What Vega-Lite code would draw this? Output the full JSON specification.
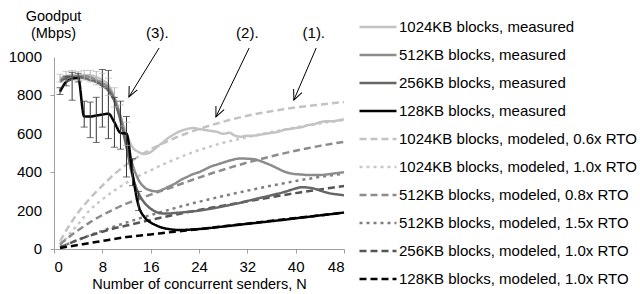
{
  "$schema": "https://vega.github.io/schema/vega-lite/v6.json",
  "width": 290,
  "height": 192,
  "autosize": "none",
  "padding": {"left": 54, "top": 57, "right": 296, "bottom": 45},
  "config": {
    "view": {"stroke": null},
    "font": "Liberation Sans",
    "axis": {"domainColor": "#a0a0a0", "tickColor": "#a0a0a0", "labelColor": "#000", "titleColor": "#000", "labelFont": "Liberation Sans", "titleFont": "Liberation Sans", "labelFontSize": 15, "titleFontSize": 14.5, "titleFontWeight": "normal", "grid": false, "tickSize": 4}
  },
  "datasets": {
    "lines": [
      {"s": "1024KB blocks, modeled, 0.6x RTO", "N": 1, "v": 40}, {"s": "1024KB blocks, modeled, 0.6x RTO", "N": 2, "v": 95}, {"s": "1024KB blocks, modeled, 0.6x RTO", "N": 3, "v": 145}, {"s": "1024KB blocks, modeled, 0.6x RTO", "N": 4, "v": 190}, {"s": "1024KB blocks, modeled, 0.6x RTO", "N": 6, "v": 265}, {"s": "1024KB blocks, modeled, 0.6x RTO", "N": 8, "v": 330}, {"s": "1024KB blocks, modeled, 0.6x RTO", "N": 10, "v": 390}, {"s": "1024KB blocks, modeled, 0.6x RTO", "N": 12, "v": 440}, {"s": "1024KB blocks, modeled, 0.6x RTO", "N": 14, "v": 482}, {"s": "1024KB blocks, modeled, 0.6x RTO", "N": 16, "v": 518}, {"s": "1024KB blocks, modeled, 0.6x RTO", "N": 18, "v": 550}, {"s": "1024KB blocks, modeled, 0.6x RTO", "N": 20, "v": 578}, {"s": "1024KB blocks, modeled, 0.6x RTO", "N": 22, "v": 603}, {"s": "1024KB blocks, modeled, 0.6x RTO", "N": 24, "v": 625}, {"s": "1024KB blocks, modeled, 0.6x RTO", "N": 26, "v": 645}, {"s": "1024KB blocks, modeled, 0.6x RTO", "N": 28, "v": 663}, {"s": "1024KB blocks, modeled, 0.6x RTO", "N": 30, "v": 680}, {"s": "1024KB blocks, modeled, 0.6x RTO", "N": 32, "v": 694}, {"s": "1024KB blocks, modeled, 0.6x RTO", "N": 34, "v": 707}, {"s": "1024KB blocks, modeled, 0.6x RTO", "N": 36, "v": 718}, {"s": "1024KB blocks, modeled, 0.6x RTO", "N": 38, "v": 728}, {"s": "1024KB blocks, modeled, 0.6x RTO", "N": 40, "v": 737}, {"s": "1024KB blocks, modeled, 0.6x RTO", "N": 42, "v": 745}, {"s": "1024KB blocks, modeled, 0.6x RTO", "N": 44, "v": 752}, {"s": "1024KB blocks, modeled, 0.6x RTO", "N": 46, "v": 759}, {"s": "1024KB blocks, modeled, 0.6x RTO", "N": 48, "v": 765},

      {"s": "1024KB blocks, modeled, 1.0x RTO", "N": 1, "v": 20}, {"s": "1024KB blocks, modeled, 1.0x RTO", "N": 2, "v": 55}, {"s": "1024KB blocks, modeled, 1.0x RTO", "N": 3, "v": 95}, {"s": "1024KB blocks, modeled, 1.0x RTO", "N": 4, "v": 130}, {"s": "1024KB blocks, modeled, 1.0x RTO", "N": 6, "v": 205}, {"s": "1024KB blocks, modeled, 1.0x RTO", "N": 8, "v": 258}, {"s": "1024KB blocks, modeled, 1.0x RTO", "N": 10, "v": 305}, {"s": "1024KB blocks, modeled, 1.0x RTO", "N": 12, "v": 345}, {"s": "1024KB blocks, modeled, 1.0x RTO", "N": 14, "v": 380}, {"s": "1024KB blocks, modeled, 1.0x RTO", "N": 16, "v": 410}, {"s": "1024KB blocks, modeled, 1.0x RTO", "N": 18, "v": 440}, {"s": "1024KB blocks, modeled, 1.0x RTO", "N": 20, "v": 467}, {"s": "1024KB blocks, modeled, 1.0x RTO", "N": 22, "v": 492}, {"s": "1024KB blocks, modeled, 1.0x RTO", "N": 24, "v": 515}, {"s": "1024KB blocks, modeled, 1.0x RTO", "N": 26, "v": 535}, {"s": "1024KB blocks, modeled, 1.0x RTO", "N": 28, "v": 553}, {"s": "1024KB blocks, modeled, 1.0x RTO", "N": 30, "v": 568}, {"s": "1024KB blocks, modeled, 1.0x RTO", "N": 32, "v": 582}, {"s": "1024KB blocks, modeled, 1.0x RTO", "N": 34, "v": 596}, {"s": "1024KB blocks, modeled, 1.0x RTO", "N": 36, "v": 609}, {"s": "1024KB blocks, modeled, 1.0x RTO", "N": 38, "v": 621}, {"s": "1024KB blocks, modeled, 1.0x RTO", "N": 40, "v": 633}, {"s": "1024KB blocks, modeled, 1.0x RTO", "N": 42, "v": 644}, {"s": "1024KB blocks, modeled, 1.0x RTO", "N": 44, "v": 654}, {"s": "1024KB blocks, modeled, 1.0x RTO", "N": 46, "v": 663}, {"s": "1024KB blocks, modeled, 1.0x RTO", "N": 48, "v": 672},

      {"s": "512KB blocks, modeled, 0.8x RTO", "N": 1, "v": 25}, {"s": "512KB blocks, modeled, 0.8x RTO", "N": 2, "v": 50}, {"s": "512KB blocks, modeled, 0.8x RTO", "N": 3, "v": 75}, {"s": "512KB blocks, modeled, 0.8x RTO", "N": 4, "v": 98}, {"s": "512KB blocks, modeled, 0.8x RTO", "N": 6, "v": 140}, {"s": "512KB blocks, modeled, 0.8x RTO", "N": 8, "v": 177}, {"s": "512KB blocks, modeled, 0.8x RTO", "N": 10, "v": 208}, {"s": "512KB blocks, modeled, 0.8x RTO", "N": 12, "v": 236}, {"s": "512KB blocks, modeled, 0.8x RTO", "N": 14, "v": 260}, {"s": "512KB blocks, modeled, 0.8x RTO", "N": 16, "v": 283}, {"s": "512KB blocks, modeled, 0.8x RTO", "N": 18, "v": 305}, {"s": "512KB blocks, modeled, 0.8x RTO", "N": 20, "v": 327}, {"s": "512KB blocks, modeled, 0.8x RTO", "N": 22, "v": 350}, {"s": "512KB blocks, modeled, 0.8x RTO", "N": 24, "v": 372}, {"s": "512KB blocks, modeled, 0.8x RTO", "N": 26, "v": 393}, {"s": "512KB blocks, modeled, 0.8x RTO", "N": 28, "v": 413}, {"s": "512KB blocks, modeled, 0.8x RTO", "N": 30, "v": 432}, {"s": "512KB blocks, modeled, 0.8x RTO", "N": 32, "v": 450}, {"s": "512KB blocks, modeled, 0.8x RTO", "N": 34, "v": 467}, {"s": "512KB blocks, modeled, 0.8x RTO", "N": 36, "v": 483}, {"s": "512KB blocks, modeled, 0.8x RTO", "N": 38, "v": 498}, {"s": "512KB blocks, modeled, 0.8x RTO", "N": 40, "v": 512}, {"s": "512KB blocks, modeled, 0.8x RTO", "N": 42, "v": 525}, {"s": "512KB blocks, modeled, 0.8x RTO", "N": 44, "v": 537}, {"s": "512KB blocks, modeled, 0.8x RTO", "N": 46, "v": 548}, {"s": "512KB blocks, modeled, 0.8x RTO", "N": 48, "v": 558},

      {"s": "512KB blocks, modeled, 1.5x RTO", "N": 1, "v": 10}, {"s": "512KB blocks, modeled, 1.5x RTO", "N": 2, "v": 22}, {"s": "512KB blocks, modeled, 1.5x RTO", "N": 4, "v": 48}, {"s": "512KB blocks, modeled, 1.5x RTO", "N": 6, "v": 72}, {"s": "512KB blocks, modeled, 1.5x RTO", "N": 8, "v": 95}, {"s": "512KB blocks, modeled, 1.5x RTO", "N": 10, "v": 117}, {"s": "512KB blocks, modeled, 1.5x RTO", "N": 12, "v": 138}, {"s": "512KB blocks, modeled, 1.5x RTO", "N": 14, "v": 158}, {"s": "512KB blocks, modeled, 1.5x RTO", "N": 16, "v": 177}, {"s": "512KB blocks, modeled, 1.5x RTO", "N": 18, "v": 195}, {"s": "512KB blocks, modeled, 1.5x RTO", "N": 20, "v": 213}, {"s": "512KB blocks, modeled, 1.5x RTO", "N": 22, "v": 230}, {"s": "512KB blocks, modeled, 1.5x RTO", "N": 24, "v": 246}, {"s": "512KB blocks, modeled, 1.5x RTO", "N": 26, "v": 261}, {"s": "512KB blocks, modeled, 1.5x RTO", "N": 28, "v": 276}, {"s": "512KB blocks, modeled, 1.5x RTO", "N": 30, "v": 290}, {"s": "512KB blocks, modeled, 1.5x RTO", "N": 32, "v": 304}, {"s": "512KB blocks, modeled, 1.5x RTO", "N": 34, "v": 317}, {"s": "512KB blocks, modeled, 1.5x RTO", "N": 36, "v": 330}, {"s": "512KB blocks, modeled, 1.5x RTO", "N": 38, "v": 342}, {"s": "512KB blocks, modeled, 1.5x RTO", "N": 40, "v": 354}, {"s": "512KB blocks, modeled, 1.5x RTO", "N": 42, "v": 365}, {"s": "512KB blocks, modeled, 1.5x RTO", "N": 44, "v": 375}, {"s": "512KB blocks, modeled, 1.5x RTO", "N": 46, "v": 384}, {"s": "512KB blocks, modeled, 1.5x RTO", "N": 48, "v": 392},

      {"s": "256KB blocks, modeled, 1.0x RTO", "N": 1, "v": 8}, {"s": "256KB blocks, modeled, 1.0x RTO", "N": 2, "v": 22}, {"s": "256KB blocks, modeled, 1.0x RTO", "N": 4, "v": 48}, {"s": "256KB blocks, modeled, 1.0x RTO", "N": 6, "v": 70}, {"s": "256KB blocks, modeled, 1.0x RTO", "N": 8, "v": 90}, {"s": "256KB blocks, modeled, 1.0x RTO", "N": 10, "v": 108}, {"s": "256KB blocks, modeled, 1.0x RTO", "N": 12, "v": 122}, {"s": "256KB blocks, modeled, 1.0x RTO", "N": 14, "v": 137}, {"s": "256KB blocks, modeled, 1.0x RTO", "N": 16, "v": 151}, {"s": "256KB blocks, modeled, 1.0x RTO", "N": 18, "v": 165}, {"s": "256KB blocks, modeled, 1.0x RTO", "N": 20, "v": 178}, {"s": "256KB blocks, modeled, 1.0x RTO", "N": 22, "v": 191}, {"s": "256KB blocks, modeled, 1.0x RTO", "N": 24, "v": 203}, {"s": "256KB blocks, modeled, 1.0x RTO", "N": 26, "v": 215}, {"s": "256KB blocks, modeled, 1.0x RTO", "N": 28, "v": 226}, {"s": "256KB blocks, modeled, 1.0x RTO", "N": 30, "v": 237}, {"s": "256KB blocks, modeled, 1.0x RTO", "N": 32, "v": 248}, {"s": "256KB blocks, modeled, 1.0x RTO", "N": 34, "v": 259}, {"s": "256KB blocks, modeled, 1.0x RTO", "N": 36, "v": 270}, {"s": "256KB blocks, modeled, 1.0x RTO", "N": 38, "v": 281}, {"s": "256KB blocks, modeled, 1.0x RTO", "N": 40, "v": 291}, {"s": "256KB blocks, modeled, 1.0x RTO", "N": 42, "v": 301}, {"s": "256KB blocks, modeled, 1.0x RTO", "N": 44, "v": 310}, {"s": "256KB blocks, modeled, 1.0x RTO", "N": 46, "v": 319}, {"s": "256KB blocks, modeled, 1.0x RTO", "N": 48, "v": 328},

      {"s": "128KB blocks, modeled, 1.0x RTO", "N": 1, "v": 5}, {"s": "128KB blocks, modeled, 1.0x RTO", "N": 4, "v": 21}, {"s": "128KB blocks, modeled, 1.0x RTO", "N": 8, "v": 42}, {"s": "128KB blocks, modeled, 1.0x RTO", "N": 12, "v": 62}, {"s": "128KB blocks, modeled, 1.0x RTO", "N": 16, "v": 76}, {"s": "128KB blocks, modeled, 1.0x RTO", "N": 20, "v": 90}, {"s": "128KB blocks, modeled, 1.0x RTO", "N": 24, "v": 103}, {"s": "128KB blocks, modeled, 1.0x RTO", "N": 28, "v": 118}, {"s": "128KB blocks, modeled, 1.0x RTO", "N": 32, "v": 132}, {"s": "128KB blocks, modeled, 1.0x RTO", "N": 36, "v": 147}, {"s": "128KB blocks, modeled, 1.0x RTO", "N": 40, "v": 161}, {"s": "128KB blocks, modeled, 1.0x RTO", "N": 44, "v": 175}, {"s": "128KB blocks, modeled, 1.0x RTO", "N": 48, "v": 190},

      {"s": "1024KB blocks, measured", "N": 1, "v": 890}, {"s": "1024KB blocks, measured", "N": 2, "v": 900}, {"s": "1024KB blocks, measured", "N": 3, "v": 905}, {"s": "1024KB blocks, measured", "N": 4, "v": 905}, {"s": "1024KB blocks, measured", "N": 5, "v": 905}, {"s": "1024KB blocks, measured", "N": 6, "v": 905}, {"s": "1024KB blocks, measured", "N": 7, "v": 895}, {"s": "1024KB blocks, measured", "N": 8, "v": 880}, {"s": "1024KB blocks, measured", "N": 9, "v": 855}, {"s": "1024KB blocks, measured", "N": 10, "v": 790}, {"s": "1024KB blocks, measured", "N": 11, "v": 690}, {"s": "1024KB blocks, measured", "N": 12, "v": 600}, {"s": "1024KB blocks, measured", "N": 13, "v": 530}, {"s": "1024KB blocks, measured", "N": 14, "v": 505}, {"s": "1024KB blocks, measured", "N": 15, "v": 495}, {"s": "1024KB blocks, measured", "N": 16, "v": 505}, {"s": "1024KB blocks, measured", "N": 17, "v": 530}, {"s": "1024KB blocks, measured", "N": 18, "v": 555}, {"s": "1024KB blocks, measured", "N": 19, "v": 580}, {"s": "1024KB blocks, measured", "N": 20, "v": 600}, {"s": "1024KB blocks, measured", "N": 21, "v": 615}, {"s": "1024KB blocks, measured", "N": 22, "v": 625}, {"s": "1024KB blocks, measured", "N": 23, "v": 630}, {"s": "1024KB blocks, measured", "N": 24, "v": 625}, {"s": "1024KB blocks, measured", "N": 25, "v": 620}, {"s": "1024KB blocks, measured", "N": 26, "v": 615}, {"s": "1024KB blocks, measured", "N": 27, "v": 610}, {"s": "1024KB blocks, measured", "N": 28, "v": 600}, {"s": "1024KB blocks, measured", "N": 29, "v": 605}, {"s": "1024KB blocks, measured", "N": 30, "v": 590}, {"s": "1024KB blocks, measured", "N": 31, "v": 585}, {"s": "1024KB blocks, measured", "N": 32, "v": 590}, {"s": "1024KB blocks, measured", "N": 33, "v": 590}, {"s": "1024KB blocks, measured", "N": 34, "v": 595}, {"s": "1024KB blocks, measured", "N": 35, "v": 600}, {"s": "1024KB blocks, measured", "N": 36, "v": 605}, {"s": "1024KB blocks, measured", "N": 37, "v": 610}, {"s": "1024KB blocks, measured", "N": 38, "v": 620}, {"s": "1024KB blocks, measured", "N": 39, "v": 625}, {"s": "1024KB blocks, measured", "N": 40, "v": 630}, {"s": "1024KB blocks, measured", "N": 41, "v": 635}, {"s": "1024KB blocks, measured", "N": 42, "v": 645}, {"s": "1024KB blocks, measured", "N": 43, "v": 650}, {"s": "1024KB blocks, measured", "N": 44, "v": 660}, {"s": "1024KB blocks, measured", "N": 45, "v": 665}, {"s": "1024KB blocks, measured", "N": 46, "v": 665}, {"s": "1024KB blocks, measured", "N": 47, "v": 670}, {"s": "1024KB blocks, measured", "N": 48, "v": 675},

      {"s": "512KB blocks, measured", "N": 1, "v": 880}, {"s": "512KB blocks, measured", "N": 2, "v": 895}, {"s": "512KB blocks, measured", "N": 3, "v": 900}, {"s": "512KB blocks, measured", "N": 4, "v": 900}, {"s": "512KB blocks, measured", "N": 5, "v": 900}, {"s": "512KB blocks, measured", "N": 6, "v": 895}, {"s": "512KB blocks, measured", "N": 7, "v": 880}, {"s": "512KB blocks, measured", "N": 8, "v": 865}, {"s": "512KB blocks, measured", "N": 9, "v": 840}, {"s": "512KB blocks, measured", "N": 10, "v": 785}, {"s": "512KB blocks, measured", "N": 11, "v": 690}, {"s": "512KB blocks, measured", "N": 12, "v": 560}, {"s": "512KB blocks, measured", "N": 13, "v": 440}, {"s": "512KB blocks, measured", "N": 14, "v": 360}, {"s": "512KB blocks, measured", "N": 15, "v": 320}, {"s": "512KB blocks, measured", "N": 16, "v": 305}, {"s": "512KB blocks, measured", "N": 17, "v": 300}, {"s": "512KB blocks, measured", "N": 18, "v": 310}, {"s": "512KB blocks, measured", "N": 19, "v": 325}, {"s": "512KB blocks, measured", "N": 20, "v": 340}, {"s": "512KB blocks, measured", "N": 21, "v": 360}, {"s": "512KB blocks, measured", "N": 22, "v": 375}, {"s": "512KB blocks, measured", "N": 23, "v": 390}, {"s": "512KB blocks, measured", "N": 24, "v": 400}, {"s": "512KB blocks, measured", "N": 25, "v": 415}, {"s": "512KB blocks, measured", "N": 26, "v": 430}, {"s": "512KB blocks, measured", "N": 27, "v": 440}, {"s": "512KB blocks, measured", "N": 28, "v": 450}, {"s": "512KB blocks, measured", "N": 29, "v": 460}, {"s": "512KB blocks, measured", "N": 30, "v": 468}, {"s": "512KB blocks, measured", "N": 31, "v": 472}, {"s": "512KB blocks, measured", "N": 32, "v": 470}, {"s": "512KB blocks, measured", "N": 33, "v": 468}, {"s": "512KB blocks, measured", "N": 34, "v": 460}, {"s": "512KB blocks, measured", "N": 35, "v": 448}, {"s": "512KB blocks, measured", "N": 36, "v": 435}, {"s": "512KB blocks, measured", "N": 37, "v": 420}, {"s": "512KB blocks, measured", "N": 38, "v": 405}, {"s": "512KB blocks, measured", "N": 39, "v": 395}, {"s": "512KB blocks, measured", "N": 40, "v": 390}, {"s": "512KB blocks, measured", "N": 41, "v": 388}, {"s": "512KB blocks, measured", "N": 42, "v": 385}, {"s": "512KB blocks, measured", "N": 43, "v": 385}, {"s": "512KB blocks, measured", "N": 44, "v": 385}, {"s": "512KB blocks, measured", "N": 45, "v": 388}, {"s": "512KB blocks, measured", "N": 46, "v": 392}, {"s": "512KB blocks, measured", "N": 47, "v": 396}, {"s": "512KB blocks, measured", "N": 48, "v": 400},

      {"s": "256KB blocks, measured", "N": 1, "v": 870}, {"s": "256KB blocks, measured", "N": 2, "v": 890}, {"s": "256KB blocks, measured", "N": 3, "v": 895}, {"s": "256KB blocks, measured", "N": 4, "v": 895}, {"s": "256KB blocks, measured", "N": 5, "v": 890}, {"s": "256KB blocks, measured", "N": 6, "v": 880}, {"s": "256KB blocks, measured", "N": 7, "v": 870}, {"s": "256KB blocks, measured", "N": 8, "v": 850}, {"s": "256KB blocks, measured", "N": 9, "v": 825}, {"s": "256KB blocks, measured", "N": 10, "v": 770}, {"s": "256KB blocks, measured", "N": 11, "v": 670}, {"s": "256KB blocks, measured", "N": 12, "v": 530}, {"s": "256KB blocks, measured", "N": 13, "v": 380}, {"s": "256KB blocks, measured", "N": 14, "v": 290}, {"s": "256KB blocks, measured", "N": 15, "v": 240}, {"s": "256KB blocks, measured", "N": 16, "v": 210}, {"s": "256KB blocks, measured", "N": 17, "v": 192}, {"s": "256KB blocks, measured", "N": 18, "v": 185}, {"s": "256KB blocks, measured", "N": 19, "v": 185}, {"s": "256KB blocks, measured", "N": 20, "v": 188}, {"s": "256KB blocks, measured", "N": 21, "v": 190}, {"s": "256KB blocks, measured", "N": 22, "v": 193}, {"s": "256KB blocks, measured", "N": 23, "v": 196}, {"s": "256KB blocks, measured", "N": 24, "v": 200}, {"s": "256KB blocks, measured", "N": 26, "v": 210}, {"s": "256KB blocks, measured", "N": 28, "v": 222}, {"s": "256KB blocks, measured", "N": 30, "v": 235}, {"s": "256KB blocks, measured", "N": 32, "v": 250}, {"s": "256KB blocks, measured", "N": 34, "v": 265}, {"s": "256KB blocks, measured", "N": 36, "v": 280}, {"s": "256KB blocks, measured", "N": 38, "v": 296}, {"s": "256KB blocks, measured", "N": 40, "v": 315}, {"s": "256KB blocks, measured", "N": 41, "v": 322}, {"s": "256KB blocks, measured", "N": 42, "v": 320}, {"s": "256KB blocks, measured", "N": 43, "v": 315}, {"s": "256KB blocks, measured", "N": 44, "v": 305}, {"s": "256KB blocks, measured", "N": 45, "v": 295}, {"s": "256KB blocks, measured", "N": 46, "v": 288}, {"s": "256KB blocks, measured", "N": 47, "v": 284}, {"s": "256KB blocks, measured", "N": 48, "v": 280},

      {"s": "128KB blocks, measured", "N": 1, "v": 820}, {"s": "128KB blocks, measured", "N": 2, "v": 870}, {"s": "128KB blocks, measured", "N": 3, "v": 885}, {"s": "128KB blocks, measured", "N": 4, "v": 890}, {"s": "128KB blocks, measured", "N": 5, "v": 690}, {"s": "128KB blocks, measured", "N": 6, "v": 690}, {"s": "128KB blocks, measured", "N": 7, "v": 695}, {"s": "128KB blocks, measured", "N": 8, "v": 700}, {"s": "128KB blocks, measured", "N": 9, "v": 705}, {"s": "128KB blocks, measured", "N": 10, "v": 660}, {"s": "128KB blocks, measured", "N": 11, "v": 605}, {"s": "128KB blocks, measured", "N": 12, "v": 600}, {"s": "128KB blocks, measured", "N": 13, "v": 390}, {"s": "128KB blocks, measured", "N": 14, "v": 225}, {"s": "128KB blocks, measured", "N": 15, "v": 165}, {"s": "128KB blocks, measured", "N": 16, "v": 138}, {"s": "128KB blocks, measured", "N": 17, "v": 122}, {"s": "128KB blocks, measured", "N": 18, "v": 110}, {"s": "128KB blocks, measured", "N": 19, "v": 104}, {"s": "128KB blocks, measured", "N": 20, "v": 100}, {"s": "128KB blocks, measured", "N": 21, "v": 99}, {"s": "128KB blocks, measured", "N": 22, "v": 100}, {"s": "128KB blocks, measured", "N": 23, "v": 102}, {"s": "128KB blocks, measured", "N": 24, "v": 104}, {"s": "128KB blocks, measured", "N": 26, "v": 110}, {"s": "128KB blocks, measured", "N": 28, "v": 117}, {"s": "128KB blocks, measured", "N": 30, "v": 124}, {"s": "128KB blocks, measured", "N": 32, "v": 131}, {"s": "128KB blocks, measured", "N": 34, "v": 138}, {"s": "128KB blocks, measured", "N": 36, "v": 145}, {"s": "128KB blocks, measured", "N": 38, "v": 152}, {"s": "128KB blocks, measured", "N": 40, "v": 160}, {"s": "128KB blocks, measured", "N": 42, "v": 167}, {"s": "128KB blocks, measured", "N": 44, "v": 175}, {"s": "128KB blocks, measured", "N": 46, "v": 182}, {"s": "128KB blocks, measured", "N": 48, "v": 190}
    ],
    "errs": [
      {"g": "light", "N": 1, "lo": 870, "hi": 910}, {"g": "light", "N": 2, "lo": 875, "hi": 925}, {"g": "light", "N": 3, "lo": 880, "hi": 930}, {"g": "light", "N": 4, "lo": 880, "hi": 925}, {"g": "light", "N": 5, "lo": 880, "hi": 930}, {"g": "light", "N": 6, "lo": 870, "hi": 930}, {"g": "light", "N": 7, "lo": 855, "hi": 925}, {"g": "light", "N": 8, "lo": 840, "hi": 915}, {"g": "light", "N": 9, "lo": 800, "hi": 890}, {"g": "light", "N": 10, "lo": 740, "hi": 840}, {"g": "light", "N": 11, "lo": 640, "hi": 750}, {"g": "light", "N": 12, "lo": 540, "hi": 660},
      {"g": "dark", "N": 1, "lo": 805, "hi": 840}, {"g": "dark", "N": 2, "lo": 850, "hi": 900}, {"g": "dark", "N": 3, "lo": 775, "hi": 920}, {"g": "dark", "N": 4, "lo": 870, "hi": 915}, {"g": "dark", "N": 5, "lo": 635, "hi": 770}, {"g": "dark", "N": 6, "lo": 580, "hi": 765}, {"g": "dark", "N": 7, "lo": 555, "hi": 790}, {"g": "dark", "N": 8, "lo": 635, "hi": 935}, {"g": "dark", "N": 9, "lo": 575, "hi": 930}, {"g": "dark", "N": 10, "lo": 530, "hi": 790}, {"g": "dark", "N": 11, "lo": 520, "hi": 770}, {"g": "dark", "N": 12, "lo": 375, "hi": 690}, {"g": "dark", "N": 13, "lo": 330, "hi": 470}, {"g": "dark", "N": 14, "lo": 200, "hi": 300}
    ],
    "notes": [
      {"label": "(3).", "tx": 17.1, "ty": 1125, "x1": 17.4, "y1": 1047, "x2": 12.4, "y2": 792},
      {"label": "(2).", "tx": 32.0, "ty": 1125, "x1": 32.3, "y1": 1047, "x2": 26.8, "y2": 688},
      {"label": "(1).", "tx": 43.0, "ty": 1125, "x1": 43.4, "y1": 1047, "x2": 39.7, "y2": 776}
    ],
    "yticks": [{"t": 0}, {"t": 200}, {"t": 400}, {"t": 600}, {"t": 800}, {"t": 1000}]
  },
  "layer": [
    {
      "data": {"name": "lines"},
      "mark": {"type": "line", "strokeCap": "butt", "strokeJoin": "round", "interpolate": "monotone"},
      "encoding": {
        "x": {"field": "N", "type": "quantitative", "scale": {"domain": [0, 48], "nice": false},
          "axis": {"values": [0, 4, 8, 12, 16, 20, 24, 28, 32, 36, 40, 44, 48], "labelExpr": "datum.value % 8 == 0 ? datum.label : ''", "title": "Number of concurrent senders, N", "labelPadding": 6, "titlePadding": 3}},
        "y": {"field": "v", "type": "quantitative", "scale": {"domain": [0, 1000], "nice": false},
          "axis": {"values": [0, 200, 400, 600, 800, 1000], "labels": false, "title": ["Goodput", "(Mbps)"], "titleAngle": 0, "titleAlign": "center", "titleBaseline": "top", "titleX": -1, "titleY": -48, "titleLineHeight": 17}},
        "color": {"field": "s", "type": "nominal",
          "scale": {"domain": ["1024KB blocks, measured", "512KB blocks, measured", "256KB blocks, measured", "128KB blocks, measured", "1024KB blocks, modeled, 0.6x RTO", "1024KB blocks, modeled, 1.0x RTO", "512KB blocks, modeled, 0.8x RTO", "512KB blocks, modeled, 1.5x RTO", "256KB blocks, modeled, 1.0x RTO", "128KB blocks, modeled, 1.0x RTO"],
            "range": ["#c3c3c3", "#8c8c8c", "#666666", "#000000", "#c3c3c3", "#c8c8c8", "#8c8c8c", "#7f7f7f", "#555555", "#000000"]},
          "legend": {"title": null, "orient": "none", "legendX": 304, "legendY": -50, "symbolType": "stroke", "symbolSize": 1369, "symbolDash": {"expr": "scale('strokeDash', datum.value)"}, "symbolStrokeWidth": {"expr": "scale('strokeWidth', datum.value)"}, "labelFontSize": 15, "labelFont": "Liberation Sans", "labelColor": "#000", "labelOffset": 1, "rowPadding": -1.8, "labelLimit": 300}},
        "strokeDash": {"field": "s", "type": "nominal", "legend": null,
          "scale": {"domain": ["1024KB blocks, measured", "512KB blocks, measured", "256KB blocks, measured", "128KB blocks, measured", "1024KB blocks, modeled, 0.6x RTO", "1024KB blocks, modeled, 1.0x RTO", "512KB blocks, modeled, 0.8x RTO", "512KB blocks, modeled, 1.5x RTO", "256KB blocks, modeled, 1.0x RTO", "128KB blocks, modeled, 1.0x RTO"],
            "range": [[1, 0], [1, 0], [1, 0], [1, 0], [7, 4], [3, 4], [7, 4], [3, 4], [7, 4], [7, 4]]}},
        "strokeWidth": {"field": "s", "type": "nominal", "legend": null,
          "scale": {"domain": ["1024KB blocks, measured", "512KB blocks, measured", "256KB blocks, measured", "128KB blocks, measured", "1024KB blocks, modeled, 0.6x RTO", "1024KB blocks, modeled, 1.0x RTO", "512KB blocks, modeled, 0.8x RTO", "512KB blocks, modeled, 1.5x RTO", "256KB blocks, modeled, 1.0x RTO", "128KB blocks, modeled, 1.0x RTO"],
            "range": [2.5, 2.5, 2.5, 2.5, 2.5, 3.5, 2.5, 3.5, 2.5, 2.5]}}
      }
    },
    {
      "data": {"name": "yticks"},
      "mark": {"type": "text", "align": "right", "baseline": "middle", "dx": -12, "fontSize": 15, "font": "Liberation Sans", "color": "#000"},
      "encoding": {
        "x": {"datum": 0, "type": "quantitative"},
        "y": {"field": "t", "type": "quantitative"},
        "text": {"field": "t", "type": "quantitative"}
      }
    },
    {
      "data": {"name": "errs"},
      "mark": {"type": "rule", "strokeWidth": 1},
      "encoding": {
        "x": {"field": "N", "type": "quantitative"},
        "y": {"field": "lo", "type": "quantitative"},
        "y2": {"field": "hi"},
        "stroke": {"field": "g", "type": "nominal", "scale": {"domain": ["light", "dark"], "range": ["#b5b5b5", "#333333"]}, "legend": null}
      }
    },
    {
      "data": {"name": "errs"},
      "mark": {"type": "tick", "orient": "horizontal", "thickness": 1, "size": 7},
      "encoding": {
        "x": {"field": "N", "type": "quantitative"},
        "y": {"field": "lo", "type": "quantitative"},
        "fill": {"field": "g", "type": "nominal", "scale": {"domain": ["light", "dark"], "range": ["#b5b5b5", "#333333"]}, "legend": null}
      }
    },
    {
      "data": {"name": "errs"},
      "mark": {"type": "tick", "orient": "horizontal", "thickness": 1, "size": 7},
      "encoding": {
        "x": {"field": "N", "type": "quantitative"},
        "y": {"field": "hi", "type": "quantitative"},
        "fill": {"field": "g", "type": "nominal", "scale": {"domain": ["light", "dark"], "range": ["#b5b5b5", "#333333"]}, "legend": null}
      }
    },
    {
      "data": {"name": "notes"},
      "mark": {"type": "rule", "color": "#000", "strokeWidth": 1},
      "encoding": {
        "x": {"field": "x1", "type": "quantitative"},
        "y": {"field": "y1", "type": "quantitative"},
        "x2": {"field": "x2"},
        "y2": {"field": "y2"}
      }
    },
    {
      "data": {"name": "notes"},
      "mark": {"type": "point", "shape": "M-0.45,1L0,0L0.45,1", "filled": false, "stroke": "#000", "strokeWidth": 1, "size": 400, "opacity": 1},
      "encoding": {
        "x": {"field": "x2", "type": "quantitative"},
        "y": {"field": "y2", "type": "quantitative"},
        "angle": {"field": "label", "type": "nominal", "scale": {"domain": ["(1).", "(2).", "(3)."], "range": [203, 205.6, 211.6]}, "legend": null}
      }
    },
    {
      "data": {"name": "notes"},
      "mark": {"type": "text", "fontSize": 15, "font": "Liberation Sans", "color": "#000", "baseline": "middle", "align": "center"},
      "encoding": {
        "x": {"field": "tx", "type": "quantitative"},
        "y": {"field": "ty", "type": "quantitative"},
        "text": {"field": "label"}
      }
    }
  ]
}
